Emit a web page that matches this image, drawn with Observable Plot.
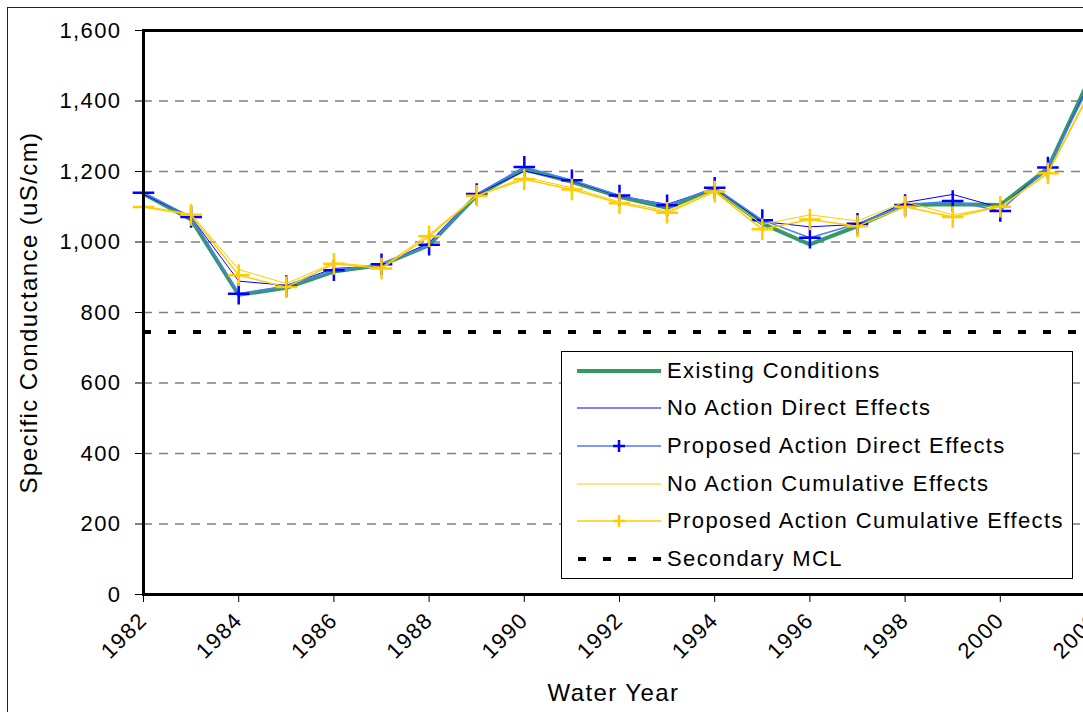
<!DOCTYPE html>
<html><head><meta charset="utf-8">
<script src="https://cdn.jsdelivr.net/npm/d3@7"></script>
<script src="https://cdn.jsdelivr.net/npm/@observablehq/plot@0.6"></script>
<style>
html,body{margin:0;padding:0;overflow:hidden;background:#fff;width:1083px;height:712px}
#wrap{position:relative;width:1083px;height:712px;overflow:hidden;font-family:"Liberation Sans",Arial,sans-serif;color:#000}
#outer{position:absolute;left:7px;top:7px;width:1200px;height:800px;border:1px solid #222;box-sizing:border-box}
#chart{position:absolute;left:0;top:0;width:1110px}
#chart svg{max-width:none !important}
#legend{position:absolute;left:561px;top:351px;width:512px;height:228px;border:1px solid #000;background:#fff;box-sizing:border-box}
.row{position:absolute;left:15px;height:37.6px;display:flex;align-items:center;font-size:22px;letter-spacing:1.4px;white-space:nowrap}
.row svg{margin-right:6px;flex:none}
</style></head>
<body><div id="wrap"><div id="outer"></div><div id="chart"></div><div id="legend"></div></div>
<script>
// ---- data ----
const years = [1982,1983,1984,1985,1986,1987,1988,1989,1990,1991,1992,1993,1994,1995,1996,1997,1998,1999,2000,2001,2002];
const existing   = [1137,1064,850,870,916,935,991,1132,1206,1171,1128,1097,1151,1052,993,1045,1105,1107,1105,1209,1500];
const naDirect   = [1135,1071,889,877,925,932,998,1135,1201,1173,1130,1107,1152,1058,1043,1050,1112,1135,1097,1210,1485];
const propDirect = [1140,1071,853,875,920,937,992,1136,1213,1175,1132,1104,1154,1062,1012,1052,1105,1116,1088,1211,1478];
const naCum      = [1102,1079,922,882,941,929,1022,1130,1184,1154,1114,1088,1147,1050,1077,1060,1114,1077,1100,1197,1460];
const propCum    = [1099,1077,906,872,938,925,1016,1131,1178,1149,1110,1083,1143,1036,1064,1045,1100,1071,1100,1195,1455];
const mcl = 745;
const yTicks = [0,200,400,600,800,1000,1200,1400,1600];
const xTicks = [1982,1984,1986,1988,1990,1992,1994,1996,1998,2000,2002];
const seriesNames = ["Existing Conditions","No Action Direct Effects","Proposed Action Direct Effects","No Action Cumulative Effects","Proposed Action Cumulative Effects","Secondary MCL"];

const toRows = vals => years.map((year, i) => ({year, value: vals[i]}));
const dExisting = toRows(existing), dNaDirect = toRows(naDirect), dPropDirect = toRows(propDirect),
      dNaCum = toRows(naCum), dPropCum = toRows(propCum);

const GREEN = "#339966", BLUE = "#0000ff", LBLUE = "#4d7dff", GOLD = "#ffcc00";

const chart = Plot.plot({
  width: 1110, height: 712,
  marginLeft: 143, marginRight: 15, marginTop: 30, marginBottom: 118,
  style: {fontFamily: "'Liberation Sans', Arial, sans-serif", fontSize: "22px", letterSpacing: "1.4px", color: "#000", background: "transparent", overflow: "visible", maxWidth: "none"},
  x: {domain: [1982, 2002]},
  y: {domain: [0, 1600]},
  marks: [
    Plot.gridY(yTicks.slice(1, -1), {stroke: "#808080", strokeOpacity: 1, strokeWidth: 1.5, strokeDasharray: "9,7"}),
    Plot.ruleY([mcl], {stroke: "#000", strokeWidth: 4, strokeDasharray: "8,17"}),
    Plot.line(dExisting, {x: "year", y: "value", stroke: GREEN, strokeWidth: 4}),
    Plot.line(dNaDirect, {x: "year", y: "value", stroke: BLUE, strokeWidth: 1}),
    Plot.line(dPropDirect, {x: "year", y: "value", stroke: LBLUE, strokeWidth: 1.5}),
    Plot.dot(dPropDirect, {x: "year", y: "value", symbol: "plus", r: 7, stroke: BLUE, strokeWidth: 2.5}),
    Plot.line(dNaCum, {x: "year", y: "value", stroke: GOLD, strokeWidth: 1}),
    Plot.line(dPropCum, {x: "year", y: "value", stroke: GOLD, strokeWidth: 1.5}),
    Plot.dot(dPropCum, {x: "year", y: "value", symbol: "plus", r: 7, stroke: GOLD, strokeWidth: 2.5}),
    Plot.frame({stroke: "#000", strokeWidth: 3}),
    Plot.axisY({ticks: yTicks, tickFormat: d3.format(","), tickSize: 8, tickPadding: 14,
      label: "Specific Conductance (uS/cm)", labelAnchor: "center", labelArrow: "none", labelOffset: 124}),
    Plot.axisX({ticks: xTicks, tickFormat: d => String(d), tickSize: 8, tickRotate: -45, tickPadding: 14,
      label: "Water Year", labelAnchor: "center", labelArrow: "none", labelOffset: 106})
  ]
});
document.getElementById("chart").appendChild(chart);
// axis titles are slightly larger than tick labels
d3.select(chart).selectAll('[aria-label="y-axis label"] text, [aria-label="x-axis label"] text').attr("font-size", 24);
d3.select(chart).selectAll('[aria-label="x-axis label"] text').each(function() {
  const t = this.getAttribute("transform") || "";
  this.setAttribute("transform", (t + " translate(-6,0)").trim());
});

// ---- legend ----
const legend = d3.select("#legend");
const styles = [
  {stroke: GREEN, w: 4},
  {stroke: BLUE, w: 1},
  {stroke: LBLUE, w: 1.5, marker: BLUE},
  {stroke: GOLD, w: 1},
  {stroke: GOLD, w: 1.5, marker: GOLD},
  {stroke: "#000", w: 4, dash: "8,17"}
];
seriesNames.forEach((name, i) => {
  const s = styles[i];
  const row = legend.append("div").attr("class", "row").style("top", (i * 37.6) + "px");
  const svg = row.append("svg").attr("width", 84).attr("height", 20);
  const ln = svg.append("line").attr("x1", 0).attr("x2", 84).attr("y1", 10).attr("y2", 10)
    .attr("stroke", s.stroke).attr("stroke-width", s.w);
  if (s.dash) ln.attr("stroke-dasharray", s.dash).attr("x1", 1);
  if (s.marker) {
    svg.append("path").attr("d", "M36,10H48M42,4V16").attr("stroke", s.marker).attr("stroke-width", 2.5).attr("fill", "none");
  }
  row.append("span").text(name);
});
</script>
</body></html>
